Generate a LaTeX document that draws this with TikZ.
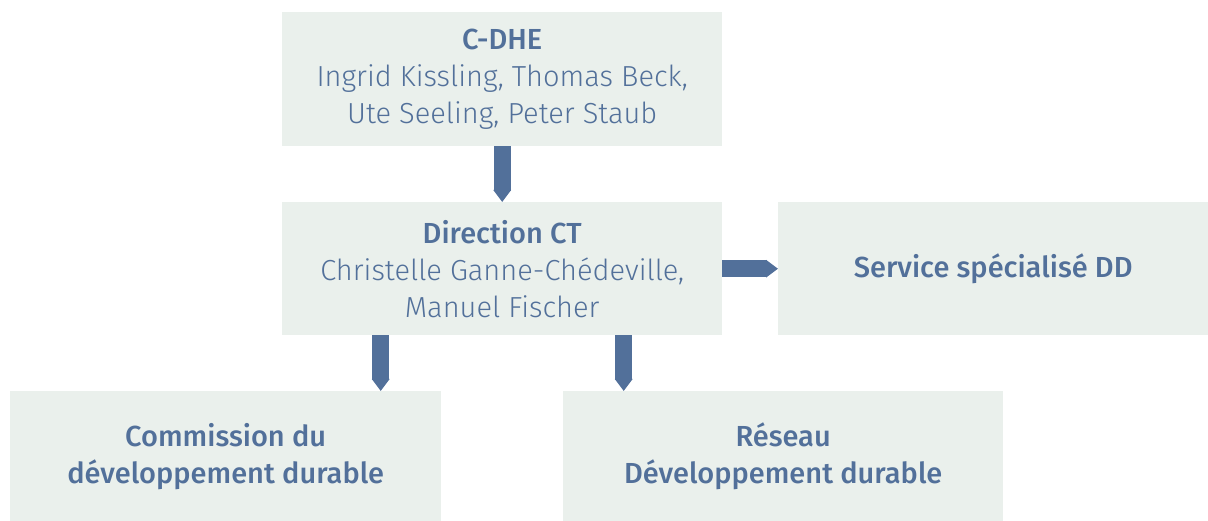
\documentclass[tikz,border=0pt]{standalone}
\usepackage{fontspec}
\setmainfont{Fira Sans}[UprightFont=* Light, BoldFont=* Medium]
\usetikzlibrary{arrows.meta,calc}
\definecolor{boxfill}{HTML}{EAF0EC}
\definecolor{ink}{HTML}{52709A}
\tikzset{
  orgbox/.style={fill=boxfill, draw=none, anchor=north west, inner sep=0pt,
    align=center, text=ink, font=\fontsize{29}{37}\selectfont},
  link/.style={draw=ink, line width=17pt, -{Triangle[length=12pt,width=17pt]}}
}
\begin{document}
\begin{tikzpicture}[x=1pt,y=-1pt]
\useasboundingbox (0,0) rectangle (1208,521);
\node[orgbox, minimum width=440pt, minimum height=134pt] (top) at (282,12)
  {\textbf{C-DHE}\\Ingrid Kissling, Thomas Beck,\\Ute Seeling, Peter Staub};
\node[orgbox, minimum width=440pt, minimum height=133pt] (mid) at (282,202)
  {\textbf{Direction CT}\\Christelle Ganne-Chédeville,\\Manuel Fischer};
\node[orgbox, minimum width=430pt, minimum height=133pt] (svc) at (778,202)
  {\textbf{Service spécialisé DD}};
\node[orgbox, minimum width=431pt, minimum height=130pt] (com) at (10,391)
  {\textbf{Commission du}\\\textbf{développement durable}};
\node[orgbox, minimum width=440pt, minimum height=130pt] (res) at (563,391)
  {\textbf{Réseau}\\\textbf{Développement durable}};
\coordinate (sl) at ($(mid.south)+(-121.5,0)$);
\coordinate (sr) at ($(mid.south)+(121.5,0)$);
\draw[link] (top.south) -- (mid.north);
\draw[link] (mid.east) -- (svc.west);
\draw[link] (sl) -- (sl |- com.north);
\draw[link] (sr) -- (sr |- res.north);
\end{tikzpicture}
\end{document}
